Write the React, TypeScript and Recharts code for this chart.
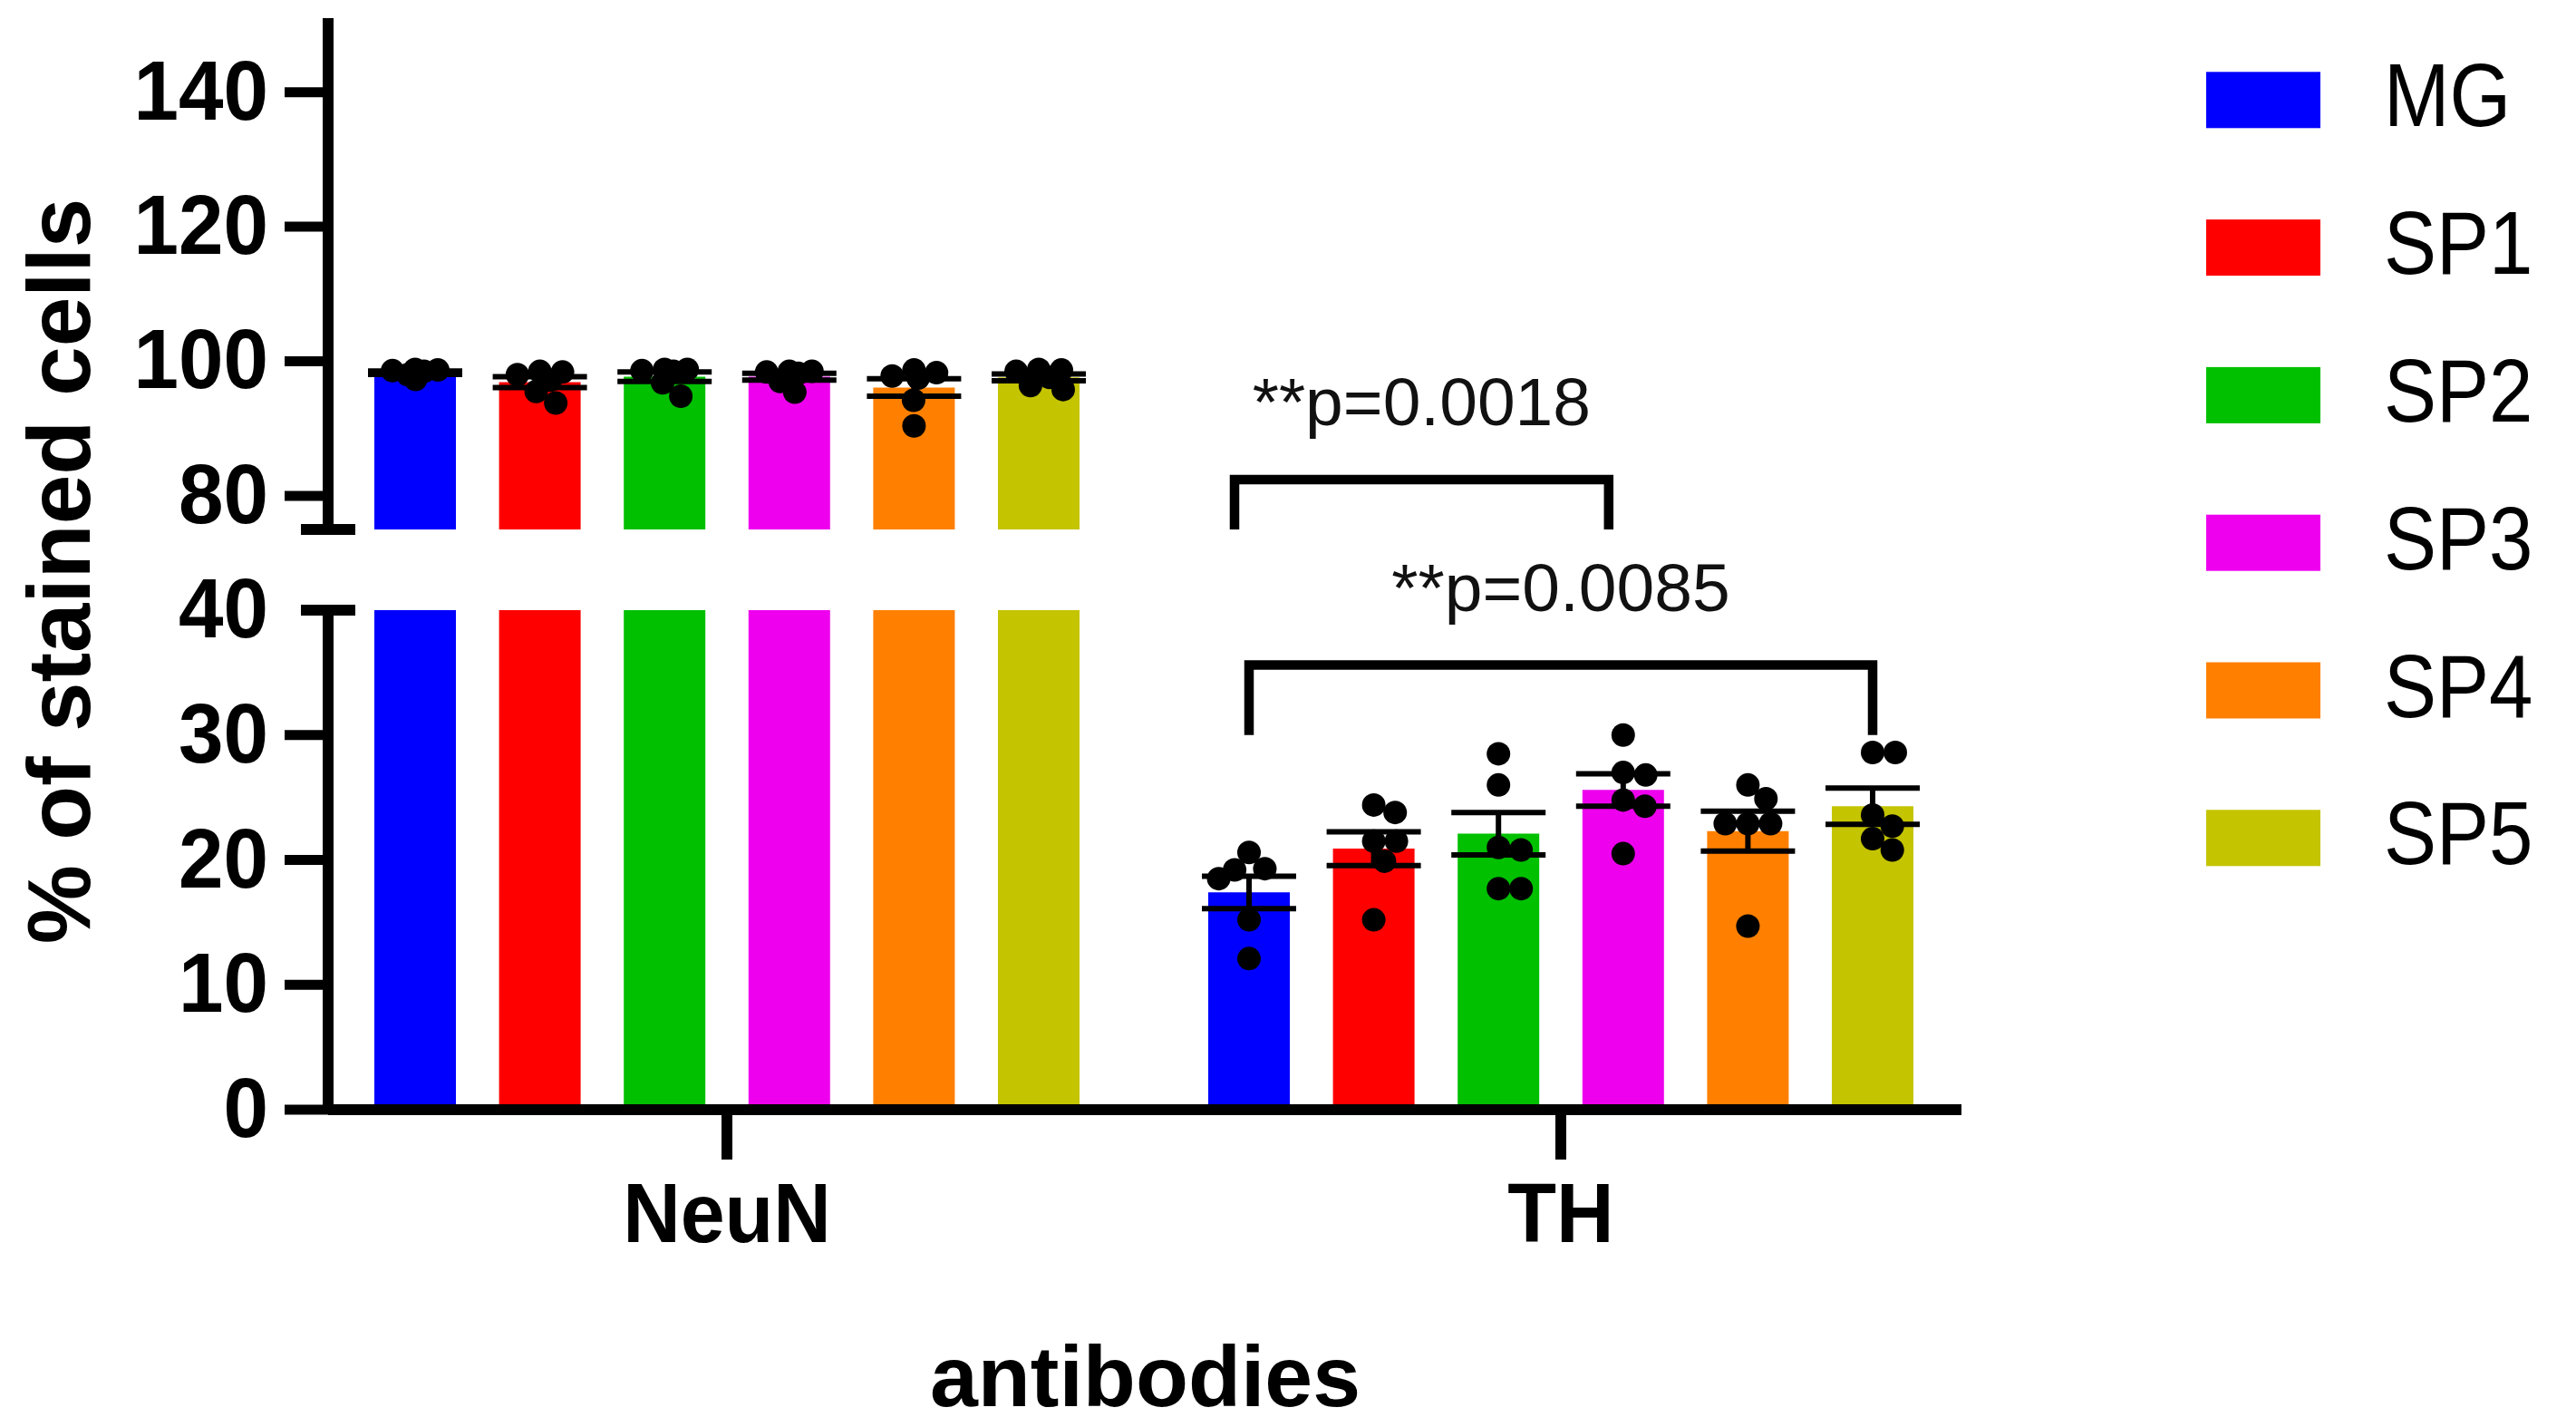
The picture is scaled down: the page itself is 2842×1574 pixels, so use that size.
import React from 'react';
import { ComposedChart, Bar, Scatter, XAxis, YAxis, ErrorBar, ReferenceLine, Legend } from 'recharts';

// ---------------- data ----------------
const GROUPS = ['NeuN', 'TH'];
const SERIES = ['MG', 'SP1', 'SP2', 'SP3', 'SP4', 'SP5'];
const COLORS = ['#0000FF', '#FF0000', '#00C000', '#EE00EE', '#FF8000', '#C4C400'];

const MEAN_NEUN = [98.3, 96.9, 97.7, 97.7, 96.1, 97.6];
const MEAN_TH = [17.4, 20.9, 22.1, 25.6, 22.3, 24.3];
const SEM_NEUN = [0.25, 0.8, 0.7, 0.5, 1.3, 0.5];
const SEM_TH = [1.3, 1.35, 1.7, 1.3, 1.6, 1.45];

const DOTS_NEUN = [
  [98.8, 98.7, 98.6, 98.5, 98.0, 97.3],
  [98.5, 98.4, 98.0, 97.2, 95.5, 93.8],
  [98.8, 98.8, 98.6, 98.5, 96.8, 94.8],
  [98.5, 98.5, 98.4, 98.2, 97.0, 95.4],
  [98.7, 98.3, 97.8, 97.5, 94.2, 90.4],
  [98.8, 98.7, 98.5, 97.6, 96.4, 95.8],
];
const DOTS_TH = [
  [20.6, 19.3, 19.2, 18.5, 15.2, 12.1],
  [24.4, 23.8, 21.5, 21.5, 19.9, 15.2],
  [28.5, 26.0, 21.0, 20.8, 17.7, 17.7],
  [30.0, 27.0, 26.8, 24.8, 24.3, 20.5],
  [26.0, 24.9, 22.9, 22.9, 22.9, 14.7],
  [28.6, 28.6, 23.6, 22.7, 21.7, 20.8],
];

const TOP_DOMAIN = [75, 151];
const TOP_TICKS = [75, 80, 100, 120, 140];
const BOTTOM_DOMAIN = [0, 40];
const BOTTOM_TICKS = [0, 10, 20, 30, 40];

const BRACKETS = [
  { panel: 'top', group: 'TH', from: 0, to: 3, y: 82.4, legEnd: 75, label: '**p=0.0018', nudge: -16 },
  { panel: 'bottom', group: 'TH', from: 0, to: 5, y: 35.6, legEnd: 30.0, label: '**p=0.0085', nudge: 0 },
];

// ---------------- layout / style ----------------
const W = 2842;
const H = 1574;
const FONT = '"Liberation Sans", Arial, Helvetica, sans-serif';
const AXIS_X = 362;
const PLOT_RIGHT = 2164;
const YAXIS_W = 300;
const XAXIS_H = 350;
const TOP_PLOT = { top: 20, bottom: 584 };
const BOT_PLOT = { top: 673, bottom: 1224 };
const BAR_W = 90;
const BAR_GAP = 47.6;
const PITCH = BAR_W + BAR_GAP;
const X_PAD = { left: -20, right: -18 };
const DOT_R = 13;
const AXIS_STROKE = 12;

// rows for the library
const ROWS = GROUPS.map((g, gi) => {
  const row: any = { group: g };
  SERIES.forEach((s, si) => {
    row[s] = gi === 0 ? MEAN_NEUN[si] : MEAN_TH[si];
    row[`${s}_err`] = gi === 0 ? SEM_NEUN[si] : SEM_TH[si];
    const dots = gi === 0 ? DOTS_NEUN[si] : DOTS_TH[si];
    dots.forEach((v, k) => {
      row[`${s}_d${k}`] = v;
    });
  });
  return row;
});

const inDomain = (v: number, d: number[]) => v >= d[0] && v <= d[1];

// beeswarm-like horizontal spreading of the dots inside a bar
function swarm(values: number[], ppu: number): number[] {
  const D0 = 25;
  const maxOff = 34;
  const order = values.map((_, i) => i).sort((a, b) => values[b] - values[a]);
  const placed: { x: number; y: number }[] = [];
  const out = new Array(values.length).fill(0);
  for (const i of order) {
    const y = values[i] * ppu;
    let chosen = 0;
    for (const f of [1, 0.8, 0.6, 0.4, 0.2, 0]) {
      const D = D0 * f;
      const cands = [0];
      for (const p of placed) {
        const dy = Math.abs(p.y - y);
        if (dy < D) {
          const dx = Math.sqrt(D * D - dy * dy);
          cands.push(p.x + dx, p.x - dx);
        }
      }
      const ok = cands
        .filter((c) => Math.abs(c) <= maxOff + 1e-6 && placed.every((p) => Math.hypot(p.x - c, p.y - y) >= D - 1e-6))
        .sort((a, b) => Math.abs(a) - Math.abs(b));
      if (ok.length) {
        chosen = ok[0];
        break;
      }
    }
    placed.push({ x: chosen, y });
    out[i] = chosen;
  }
  return out;
}

const PPU_TOP = (TOP_PLOT.bottom - TOP_PLOT.top) / (TOP_DOMAIN[1] - TOP_DOMAIN[0]);
const PPU_BOT = (BOT_PLOT.bottom - BOT_PLOT.top) / (BOTTOM_DOMAIN[1] - BOTTOM_DOMAIN[0]);
const JITTER = [DOTS_NEUN.map((v) => swarm(v, PPU_TOP)), DOTS_TH.map((v) => swarm(v, PPU_BOT))];

const slotOffset = (si: number) => (si - (SERIES.length - 1) / 2) * PITCH;

// ---------------- renderers ----------------
const makeDotShape = (si: number, k: number) => (p: any) => {
  const gi = GROUPS.indexOf(p?.payload?.group);
  if (p == null || p.cx == null || p.cy == null || gi < 0 || !isFinite(p.cy)) return <g />;
  const dx = slotOffset(si) + JITTER[gi][si][k];
  return <circle cx={p.cx + dx} cy={p.cy} r={DOT_R} fill="#000" />;
};

const YTick = (props: any) => {
  const { x, y, payload, breakAt, breakLabel } = props;
  const v = payload.value;
  const isBreak = v === breakAt;
  return (
    <g>
      {isBreak ? (
        <line x1={x - 30} x2={x + 30} y1={y} y2={y} stroke="#000" strokeWidth={AXIS_STROKE} />
      ) : (
        <line x1={x - 48} x2={x} y1={y} y2={y} stroke="#000" strokeWidth={11} />
      )}
      {(!isBreak || breakLabel) && (
        <text
          transform={`translate(${x - 66},${y + 30}) scale(1,1.04)`}
          textAnchor="end"
          fontSize={89}
          fontWeight="bold"
          fontFamily={FONT}
          fill="#000"
        >
          {v}
        </text>
      )}
    </g>
  );
};

const XTick = (props: any) => {
  const { x, y, payload } = props;
  return (
    <g>
      <line x1={x} x2={x} y1={y} y2={y + 55} stroke="#000" strokeWidth={AXIS_STROKE} />
      <text
        transform={`translate(${x},${y + 146}) scale(1,1.06)`}
        textAnchor="middle"
        fontSize={88}
        fontWeight="bold"
        fontFamily={FONT}
        fill="#000"
      >
        {payload.value}
      </text>
    </g>
  );
};

const XTitle = () => (
  <text x={1263.5} y={1551} textAnchor="middle" fontSize={95} fontWeight="bold" fontFamily={FONT} fill="#000">
    antibodies
  </text>
);

const YTitle = () => (
  <text
    x={99}
    y={630}
    transform="rotate(-90 99 630)"
    textAnchor="middle"
    fontSize={98}
    fontWeight="bold"
    fontFamily={FONT}
    fill="#000"
  >
    % of stained cells
  </text>
);

const makeBracket = (b: any) => (p: any) => {
  const cx = p.x1;
  const yTop = p.y1;
  const yLeg = p.y2;
  if (cx == null || yTop == null || yLeg == null) return <g />;
  const xl = cx + slotOffset(b.from) + b.nudge;
  const xr = cx + slotOffset(b.to) + b.nudge;
  return (
    <g>
      <path
        d={`M${xl},${yLeg} L${xl},${yTop} L${xr},${yTop} L${xr},${yLeg}`}
        fill="none"
        stroke="#000"
        strokeWidth={10.5}
        strokeLinejoin="miter"
      />
      <text x={(xl + xr) / 2} y={yTop - 60} textAnchor="middle" fontSize={75} fontFamily={FONT} fill="#111">
        {b.label}
      </text>
    </g>
  );
};

const LegendBox = () => (
  <svg width={W} height={1000} style={{ display: 'block' }}>
    {SERIES.map((s, i) => (
      <g key={s}>
        <rect x={2434} y={79.3 + i * 162.8} width={126} height={62} fill={COLORS[i]} />
        <text
          transform={`translate(2630,${139.3 + i * 162.8}) scale(1,1.13)`}
          fontSize={87}
          fontFamily={FONT}
          fill="#000"
        >
          {s}
        </text>
      </g>
    ))}
  </svg>
);

function Panel({ which }: { which: 'top' | 'bottom' }) {
  const isTop = which === 'top';
  const plot = isTop ? TOP_PLOT : BOT_PLOT;
  const domain = isTop ? TOP_DOMAIN : BOTTOM_DOMAIN;
  const margin = {
    top: plot.top,
    right: W - PLOT_RIGHT,
    left: AXIS_X - YAXIS_W,
    bottom: isTop ? H - plot.bottom : H - plot.bottom - XAXIS_H,
  };
  return (
    <div style={{ position: 'absolute', left: 0, top: 0, width: W, height: H }}>
      <ComposedChart width={W} height={H} data={ROWS} margin={margin} barSize={BAR_W} barGap={BAR_GAP}>
        <XAxis
          dataKey="group"
          type="category"
          padding={X_PAD}
          hide={isTop}
          height={XAXIS_H}
          axisLine={{ stroke: '#000', strokeWidth: AXIS_STROKE }}
          tickLine={false}
          tickSize={0}
          tickMargin={0}
          interval={0}
          tick={(p: any) => <XTick {...p} />}
          label={isTop ? undefined : { content: XTitle }}
        />
        <YAxis
          type="number"
          domain={domain}
          ticks={isTop ? TOP_TICKS : BOTTOM_TICKS}
          allowDataOverflow
          interval={0}
          width={YAXIS_W}
          axisLine={{ stroke: '#000', strokeWidth: AXIS_STROKE }}
          tickLine={false}
          tickSize={0}
          tickMargin={0}
          tick={(p: any) => <YTick {...p} breakAt={isTop ? 75 : 40} breakLabel={!isTop} />}
          label={isTop ? undefined : { content: YTitle }}
        />
        {SERIES.map((s, si) => (
          <Bar key={s} dataKey={s} fill={COLORS[si]} isAnimationActive={false}>
            <ErrorBar
              dataKey={(row: any) => (inDomain(row[s], domain) ? row[`${s}_err`] : null)}
              width={52}
              strokeWidth={6}
              stroke="#000"
              direction="y"
            />
          </Bar>
        ))}
        {SERIES.flatMap((s, si) =>
          DOTS_TH[si].map((_, k) => (
            <Scatter
              key={`${s}_d${k}`}
              dataKey={`${s}_d${k}`}
              isAnimationActive={false}
              legendType="none"
              shape={makeDotShape(si, k)}
            />
          ))
        )}
        {BRACKETS.filter((b) => b.panel === which).map((b) => (
          <ReferenceLine
            key={b.label}
            segment={[
              { x: b.group, y: b.y },
              { x: b.group, y: b.legEnd },
            ]}
            ifOverflow="visible"
            shape={makeBracket(b)}
          />
        ))}
        {isTop && (
          <Legend
            layout="horizontal"
            verticalAlign="middle"
            align="center"
            wrapperStyle={{ left: 0, top: 0, width: W, height: 1000 }}
            content={() => <LegendBox />}
          />
        )}
      </ComposedChart>
    </div>
  );
}

export default function App() {
  return (
    <div
      style={{
        position: 'absolute',
        left: 0,
        top: 0,
        width: W,
        height: H,
        background: '#fff',
        overflow: 'hidden',
      }}
    >
      <Panel which="top" />
      <Panel which="bottom" />
    </div>
  );
}
